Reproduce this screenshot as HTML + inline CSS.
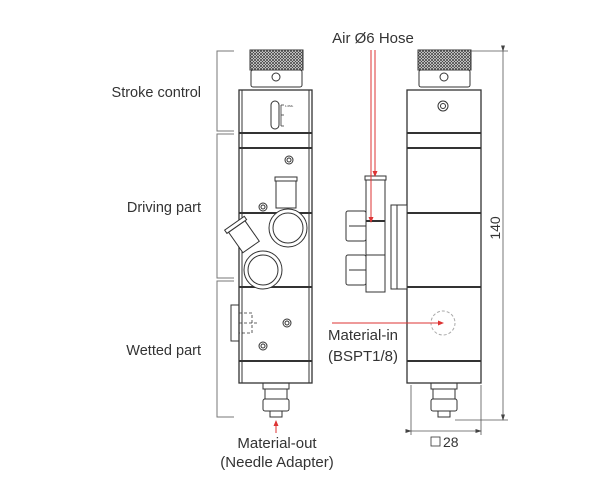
<!DOCTYPE html>
<html><head><meta charset="utf-8"><style>
html,body{margin:0;padding:0;background:#fff;}
svg{display:block;}
text{font-family:"Liberation Sans",sans-serif;fill:#333;}
</style></head><body>
<svg width="614" height="498" viewBox="0 0 614 498" xmlns="http://www.w3.org/2000/svg">
<defs>
<pattern id="kn" width="3" height="3" patternUnits="userSpaceOnUse">
<rect width="3" height="3" fill="#fff"/><path d="M0 0L3 3M3 0L0 3" stroke="#444" stroke-width="0.8"/>
</pattern>
<marker id="ar" markerWidth="6" markerHeight="6" refX="5" refY="3" orient="auto"><path d="M0 0.5L6 3L0 5.5z" fill="#d33"/></marker>
<marker id="ak" markerWidth="8" markerHeight="6" refX="7" refY="3" orient="auto"><path d="M0 0.5L8 3L0 5.5z" fill="#444"/></marker>
</defs>

<text x="201" y="97" font-size="14.5" text-anchor="end">Stroke control</text>
<text x="201" y="212" font-size="14.5" text-anchor="end">Driving part</text>
<text x="201" y="355" font-size="14.5" text-anchor="end">Wetted part</text>
<g stroke="#777" fill="none" stroke-width="1">
<path d="M234 51H217V131H234"/>
<path d="M234 134H217V278H234"/>
<path d="M234 281H217V417H234"/>
</g>

<g stroke="#333" fill="none" stroke-width="1">
<rect x="250" y="50" width="53" height="20" fill="url(#kn)"/>
<rect x="251" y="70" width="51" height="17" rx="2"/>
<circle cx="276" cy="77" r="4"/>
<rect x="239" y="90" width="73" height="293" stroke-width="1.3"/>
<line x1="242" y1="90" x2="242" y2="383"/><line x1="309" y1="90" x2="309" y2="383"/>
<g stroke-width="2"><line x1="239" y1="133" x2="312" y2="133"/><line x1="239" y1="148" x2="312" y2="148"/><line x1="239" y1="213" x2="312" y2="213"/><line x1="239" y1="287" x2="312" y2="287"/><line x1="239" y1="361" x2="312" y2="361"/></g>
<rect x="271" y="101" width="8" height="28" rx="4"/>
<path d="M281 105V126M281 105h3M281 115h3M281 126h3" stroke-width="0.8"/>
<text x="285" y="107" font-size="3" stroke="none">1.0ML</text>
<circle cx="289" cy="160" r="4"/><circle cx="289" cy="160" r="2"/>
<circle cx="263" cy="207" r="4"/><circle cx="263" cy="207" r="2"/>
<rect x="275" y="177" width="22" height="4" fill="#fff"/>
<rect x="276" y="181" width="20" height="27" fill="#fff"/>
<circle cx="288" cy="228" r="19" fill="#fff"/><circle cx="288" cy="228" r="15"/>
<g transform="rotate(-35 252 250)">
<rect x="243" y="222" width="20" height="25" fill="#fff"/>
<rect x="241" y="218" width="24" height="4" fill="#fff"/>
</g>
<circle cx="263" cy="270" r="19" fill="#fff"/><circle cx="263" cy="270" r="15"/>
<circle cx="287" cy="323" r="4"/><circle cx="287" cy="323" r="2"/>
<circle cx="263" cy="346" r="4"/><circle cx="263" cy="346" r="2"/>
<rect x="231" y="305" width="8" height="36"/>
<path d="M239 313h13v20h-13M239 323h18" stroke-dasharray="3 2" stroke-width="0.8"/>
<rect x="263" y="383" width="26" height="6"/><rect x="265" y="389" width="22" height="10"/>
<rect x="263" y="399" width="26" height="12" rx="2"/><rect x="270" y="411" width="12" height="6"/>

<rect x="418" y="50" width="53" height="20" fill="url(#kn)"/>
<rect x="419" y="70" width="51" height="17" rx="2"/>
<circle cx="444" cy="77" r="4"/>
<rect x="407" y="90" width="74" height="293" stroke-width="1.3"/>
<g stroke-width="2"><line x1="407" y1="133" x2="481" y2="133"/><line x1="407" y1="148" x2="481" y2="148"/><line x1="407" y1="213" x2="481" y2="213"/><line x1="407" y1="287" x2="481" y2="287"/><line x1="407" y1="361" x2="481" y2="361"/></g>
<circle cx="443" cy="106" r="5"/><circle cx="443" cy="106" r="2.5"/>
<circle cx="443" cy="323" r="12" stroke="#aaa" stroke-dasharray="3 2"/>
<rect x="431" y="383" width="26" height="6"/><rect x="433" y="389" width="22" height="10"/>
<rect x="431" y="399" width="26" height="12" rx="2"/><rect x="438" y="411" width="12" height="6"/>
<rect x="391" y="205" width="16" height="84" fill="#fff"/>
<line x1="397" y1="205" x2="397" y2="289"/>
<rect x="365" y="176" width="21" height="4" fill="#fff"/>
<rect x="366" y="180" width="19" height="112" fill="#fff"/>
<line x1="366" y1="221" x2="385" y2="221" stroke-width="2"/>
<line x1="366" y1="255" x2="385" y2="255"/>
<rect x="346" y="211" width="20" height="30" rx="2" fill="#fff"/><line x1="349" y1="226" x2="366" y2="226"/>
<rect x="346" y="255" width="20" height="30" rx="2" fill="#fff"/><line x1="349" y1="270" x2="366" y2="270"/>
</g>

<g stroke="#555" fill="none" stroke-width="0.8">
<line x1="471" y1="51" x2="508" y2="51"/><line x1="455" y1="420" x2="508" y2="420"/>
<line x1="503" y1="51" x2="503" y2="420" marker-start="url(#ak)" marker-end="url(#ak)"/>
<line x1="411" y1="385" x2="411" y2="435"/><line x1="481" y1="385" x2="481" y2="435"/>
<line x1="411" y1="431" x2="481" y2="431" marker-start="url(#ak)" marker-end="url(#ak)"/>
</g>
<text x="0" y="0" font-size="14" text-anchor="middle" transform="translate(500 228) rotate(-90)">140</text>
<rect x="431" y="437" width="9" height="9" fill="none" stroke="#333" stroke-width="0.8"/>
<text x="443" y="447" font-size="14">28</text>

<text x="373" y="43" font-size="15" text-anchor="middle">Air Ø6 Hose</text>
<g stroke="#d33" stroke-width="1" fill="none">
<line x1="371" y1="50" x2="371" y2="222" marker-end="url(#ar)"/>
<line x1="375" y1="50" x2="375" y2="176" marker-end="url(#ar)"/>
<line x1="332" y1="323" x2="443" y2="323" marker-end="url(#ar)"/>
<line x1="276" y1="433" x2="276" y2="421" marker-end="url(#ar)"/>
</g>
<text x="363" y="340" font-size="15" text-anchor="middle">Material-in</text>
<text x="363" y="361" font-size="15" text-anchor="middle">(BSPT1/8)</text>
<text x="277" y="448" font-size="15" text-anchor="middle">Material-out</text>
<text x="277" y="467" font-size="15" text-anchor="middle">(Needle Adapter)</text>
</svg>
</body></html>
